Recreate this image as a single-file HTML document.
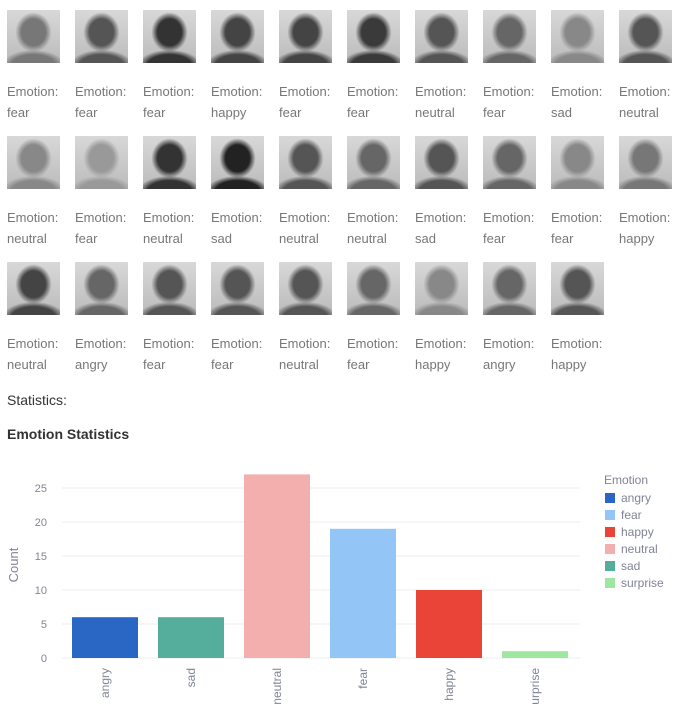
<!DOCTYPE html>
<html><head><meta charset="utf-8"><style>
body{margin:0;width:678px;height:704px;background:#fff;font-family:"Liberation Sans",sans-serif;position:relative;overflow:hidden}
.cell{position:absolute;width:62px}
.face{width:53px;height:53px}
.lbl{font-size:13px;color:#777;line-height:21px;margin-top:18px}
</style></head><body>
<div id="grid"></div>
<div style="position:absolute;left:7px;top:392px;font-size:14px;color:#333">Statistics:</div>
<div style="position:absolute;left:7px;top:426px;font-size:14px;font-weight:bold;color:#333">Emotion Statistics</div>
<svg id="chart" width="678" height="704" style="position:absolute;left:0;top:0" font-family="Liberation Sans, sans-serif"></svg>
<script>
const emos=["fear","fear","fear","happy","fear","fear","neutral","fear","sad","neutral","neutral","fear","neutral","sad","neutral","neutral","sad","fear","fear","happy","neutral","angry","fear","fear","neutral","fear","happy","angry","happy"];
const shades=["#777","#555","#333","#444","#444","#3a3a3a","#555","#666","#888","#555","#888","#999","#333","#222","#555","#666","#555","#666","#888","#777","#444","#666","#555","#555","#555","#666","#888","#666","#555"];
const g=document.getElementById('grid');
emos.forEach((e,i)=>{const c=document.createElement('div');c.className='cell';


c.style.left=(7+(i%10)*68)+'px';c.style.top=(10+Math.floor(i/10)*126)+'px';
const s=shades[i];
c.innerHTML='<div class="face" style="background:radial-gradient(ellipse 38% 42% at 50% 42%,'+s+' 0%,'+s+' 60%,transparent 90%),radial-gradient(ellipse 60% 30% at 50% 105%,'+s+' 0%,'+s+' 70%,transparent 100%),linear-gradient(#d8d8d8,#bbb)"></div><div class="lbl">Emotion:<br>'+e+'</div>';
g.appendChild(c);});

const categories=["angry","sad","neutral","fear","happy","surprise"];
const counts=[6,6,27,19,10,1];
const colors=["#2a66c3","#55ad9b","#f2afad","#93c5f7","#e94437","#9de7a0"];
const ticks=[0,5,10,15,20,25];
const legendNames=["angry","fear","happy","neutral","sad","surprise"];
const legendColors=["#2a66c3","#93c5f7","#e94437","#f2afad","#55ad9b","#9de7a0"];
const svg=document.getElementById('chart');const NS='http://www.w3.org/2000/svg';
function mk(t,a,txt){const e=document.createElementNS(NS,t);for(const k in a)e.setAttribute(k,a[k]);if(txt!==undefined)e.textContent=txt;svg.appendChild(e);return e;}
const y0=658,ppu=6.8,x0=62,band=86;
const Y=v=>y0-v*ppu, X=i=>x0+band*i+10;
ticks.forEach(t=>{const l=mk('line',{x1:62,x2:580,y1:Y(t),y2:Y(t),stroke:'#eceef3'});

const tx=mk('text',{x:47,y:Y(t)+4,'font-size':11,fill:'#808495','text-anchor':'end'},t);
});
categories.forEach((c,i)=>{const r=mk('rect',{x:X(i),y:Y(counts[i]),width:66,height:counts[i]*ppu,fill:colors[i]});

const cx=X(i)+33;const t=mk('text',{x:0,y:0,'font-size':12,fill:'#808495','text-anchor':'end',transform:'translate('+(cx+4)+',668) rotate(-90)'},c);
});
const yt=mk('text',{x:0,y:0,'font-size':13,fill:'#808495','text-anchor':'middle',transform:'translate(18,565) rotate(-90)'},'Count');

const lt=mk('text',{x:604,y:484,'font-size':12,fill:'#808495'},'Emotion');

legendNames.forEach((n,i)=>{const yy=498+i*17;
const s=mk('rect',{x:605,y:yy-5,width:10,height:10,fill:legendColors[i]});

const t=mk('text',{x:621,y:yy+4,'font-size':12,fill:'#808495'},n);
});
</script>
</body></html>
